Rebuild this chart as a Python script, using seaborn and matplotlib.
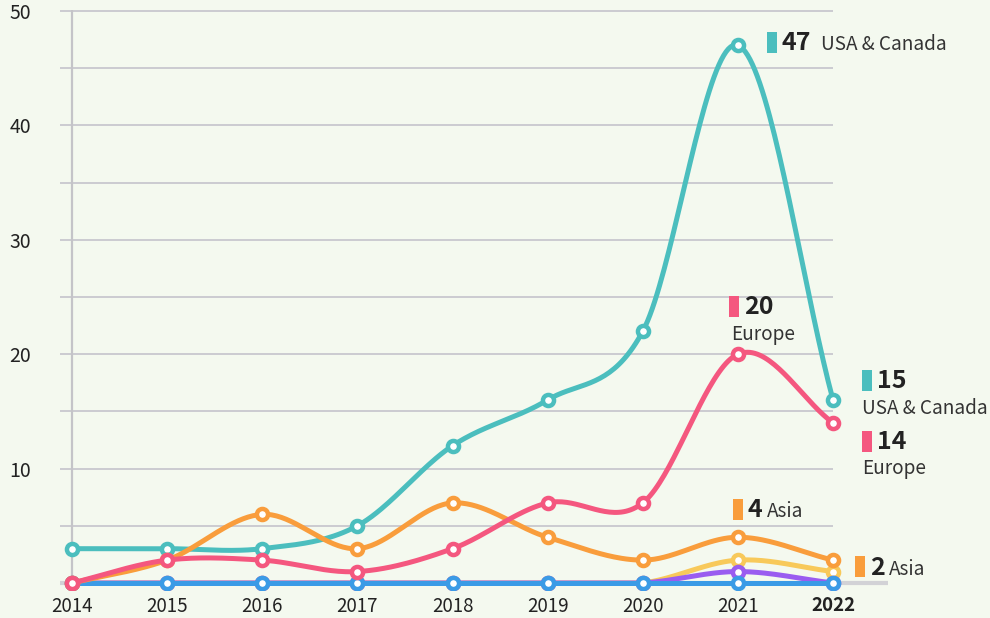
import numpy as np
import pandas as pd
import matplotlib
matplotlib.use("Agg")
import matplotlib.pyplot as plt
from matplotlib.patches import Rectangle
import seaborn as sns

# ---------------- data ----------------
years = [2014, 2015, 2016, 2017, 2018, 2019, 2020, 2021, 2022]
usa_canada = [3, 3, 3, 5, 12, 16, 22, 47, 16]
europe = [0, 2, 2, 1, 3, 7, 7, 20, 14]
asia = [0, 2, 6, 3, 7, 4, 2, 4, 2]
other_yellow = [0, 0, 0, 0, 0, 0, 0, 2, 1]
other_purple = [0, 0, 0, 0, 0, 0, 0, 1, 0]
other_blue = [0, 0, 0, 0, 0, 0, 0, 0, 0]

y_ticks = [10, 20, 30, 40, 50]
grid_levels = [5, 10, 15, 20, 25, 30, 35, 40, 45, 50]

# callout labels (text shown in the chart)
label_usa_2021 = ("47", "USA & Canada")
label_eu_2021 = ("20", "Europe")
label_usa_2022 = ("15", "USA & Canada")
label_eu_2022 = ("14", "Europe")
label_asia_2021 = ("4", "Asia")
label_asia_2022 = ("2", "Asia")

# ---------------- style ----------------
BG = "#F4F9EF"
C_TEAL = "#4BBEBE"
C_PINK = "#F4577F"
C_ORANGE = "#F99D3C"
C_YELLOW = "#F8C95A"
C_PURPLE = "#9A5CF0"
C_BLUE = "#3A9BE6"
TXT = "#222222"

sns.set_theme(style="white")
plt.rcParams["font.family"] = ["Noto Sans CJK SC", "DejaVu Sans"]

W, H = 990, 618
fig = plt.figure(figsize=(W / 100, H / 100), dpi=100, facecolor=BG)
ax = fig.add_axes([60 / W, 1 - 590 / H, (888 - 60) / W, (590 - 5) / H])
ax.set_facecolor(BG)

step = 95.125   # px per year
ppu = 11.44     # px per unit
xmin, xmax = 2014 - 12 / step, 2022 + 55 / step
ax.set_xlim(xmin, xmax)
ax.set_ylim(-7 / ppu, 50 + 6 / ppu)
for s in ax.spines.values():
    s.set_visible(False)
ax.grid(False)

# gridlines
for v in grid_levels:
    ax.hlines(v, xmin, 2022, color="#C8C8CE", lw=1.3, zorder=0)
ax.hlines(0, xmin, xmax, color="#D2D2D6", lw=3, zorder=0)
ax.vlines(2014, 0, 50.1, color="#C4C4C8", lw=1.6, zorder=0)


def catmull(xv, yv, n=40):
    xv = np.asarray(xv, float)
    yv = np.asarray(yv, float)
    yp = np.concatenate([[2 * yv[0] - yv[1]], yv, [2 * yv[-1] - yv[-2]]])
    xs, ys = [], []
    for i in range(len(xv) - 1):
        p0, p1, p2, p3 = yp[i], yp[i + 1], yp[i + 2], yp[i + 3]
        m1 = (p2 - p0) / 2
        m2 = (p3 - p1) / 2
        t = np.linspace(0, 1, n, endpoint=(i == len(xv) - 2))
        h00 = 2 * t**3 - 3 * t**2 + 1
        h10 = t**3 - 2 * t**2 + t
        h01 = -2 * t**3 + 3 * t**2
        h11 = t**3 - t**2
        ys.append(h00 * p1 + h10 * m1 + h01 * p2 + h11 * m2)
        xs.append(xv[i] + t * (xv[i + 1] - xv[i]))
    return np.concatenate(xs), np.maximum(np.concatenate(ys), 0)


series = [
    ("USA & Canada", usa_canada, C_TEAL),
    ("Other C", other_yellow, C_YELLOW),
    ("Other B", other_purple, C_PURPLE),
    ("Other A", other_blue, C_BLUE),
    ("Asia", asia, C_ORANGE),
    ("Europe", europe, C_PINK),
]

for k, (name, vals, col) in enumerate(series):
    sx, sy = catmull(years, vals)
    dfc = pd.DataFrame({"year": sx, "value": sy})
    sns.lineplot(data=dfc, x="year", y="value", color=col, lw=3.6,
                 sort=False, estimator=None, ax=ax, zorder=2 + 2 * k)
    dfp = pd.DataFrame({"year": years, "value": vals})
    sns.scatterplot(data=dfp, x="year", y="value", s=64, marker="o",
                    facecolor="white", edgecolor=col, linewidth=3.2,
                    ax=ax, zorder=3 + 2 * k)

ax.set_xlabel("")
ax.set_ylabel("")
ax.set_xticks(years)
ax.set_xticklabels([str(y) for y in years], fontsize=13.5, color=TXT)
ax.get_xticklabels()[-1].set_fontweight("bold")
ax.set_yticks(y_ticks)
ax.set_yticklabels([str(v) for v in y_ticks], fontsize=14, color=TXT)
ax.tick_params(axis="x", length=0, pad=4)
ax.tick_params(axis="y", length=0, pad=21)


# ---------------- callouts ----------------
def ftext(x, y, s, **kw):
    fig.text(x / W, 1 - y / H, s, va="baseline", ha="left", **kw)


def frect(x0, y0, x1, y1, col):
    fig.add_artist(Rectangle((x0 / W, 1 - y1 / H), (x1 - x0) / W, (y1 - y0) / H,
                             transform=fig.transFigure, color=col, lw=0))


NUM = dict(fontsize=18, fontweight="bold", color=TXT)
LAB = dict(fontsize=13.7, color="#333333")

frect(767, 32, 777, 53, C_TEAL)
ftext(782, 50, label_usa_2021[0], **NUM)
ftext(821, 50, label_usa_2021[1], **LAB)

frect(729, 296, 739, 317, C_PINK)
ftext(744, 314, label_eu_2021[0], **NUM)
ftext(731, 340, label_eu_2021[1], **LAB)

frect(862, 370, 872, 391, C_TEAL)
ftext(877, 388, label_usa_2022[0], **NUM)
ftext(862, 414, label_usa_2022[1], **LAB)

frect(862, 431, 872, 452, C_PINK)
ftext(877, 449, label_eu_2022[0], **NUM)
ftext(862, 474, label_eu_2022[1], **LAB)

frect(733, 499, 743, 520, C_ORANGE)
ftext(748, 517, label_asia_2021[0], **NUM)
ftext(767, 517, label_asia_2021[1], **LAB)

frect(855, 556, 865, 577, C_ORANGE)
ftext(870, 575, label_asia_2022[0], **NUM)
ftext(889, 575, label_asia_2022[1], **LAB)

fig.savefig("out.png", dpi=100, facecolor=BG)
